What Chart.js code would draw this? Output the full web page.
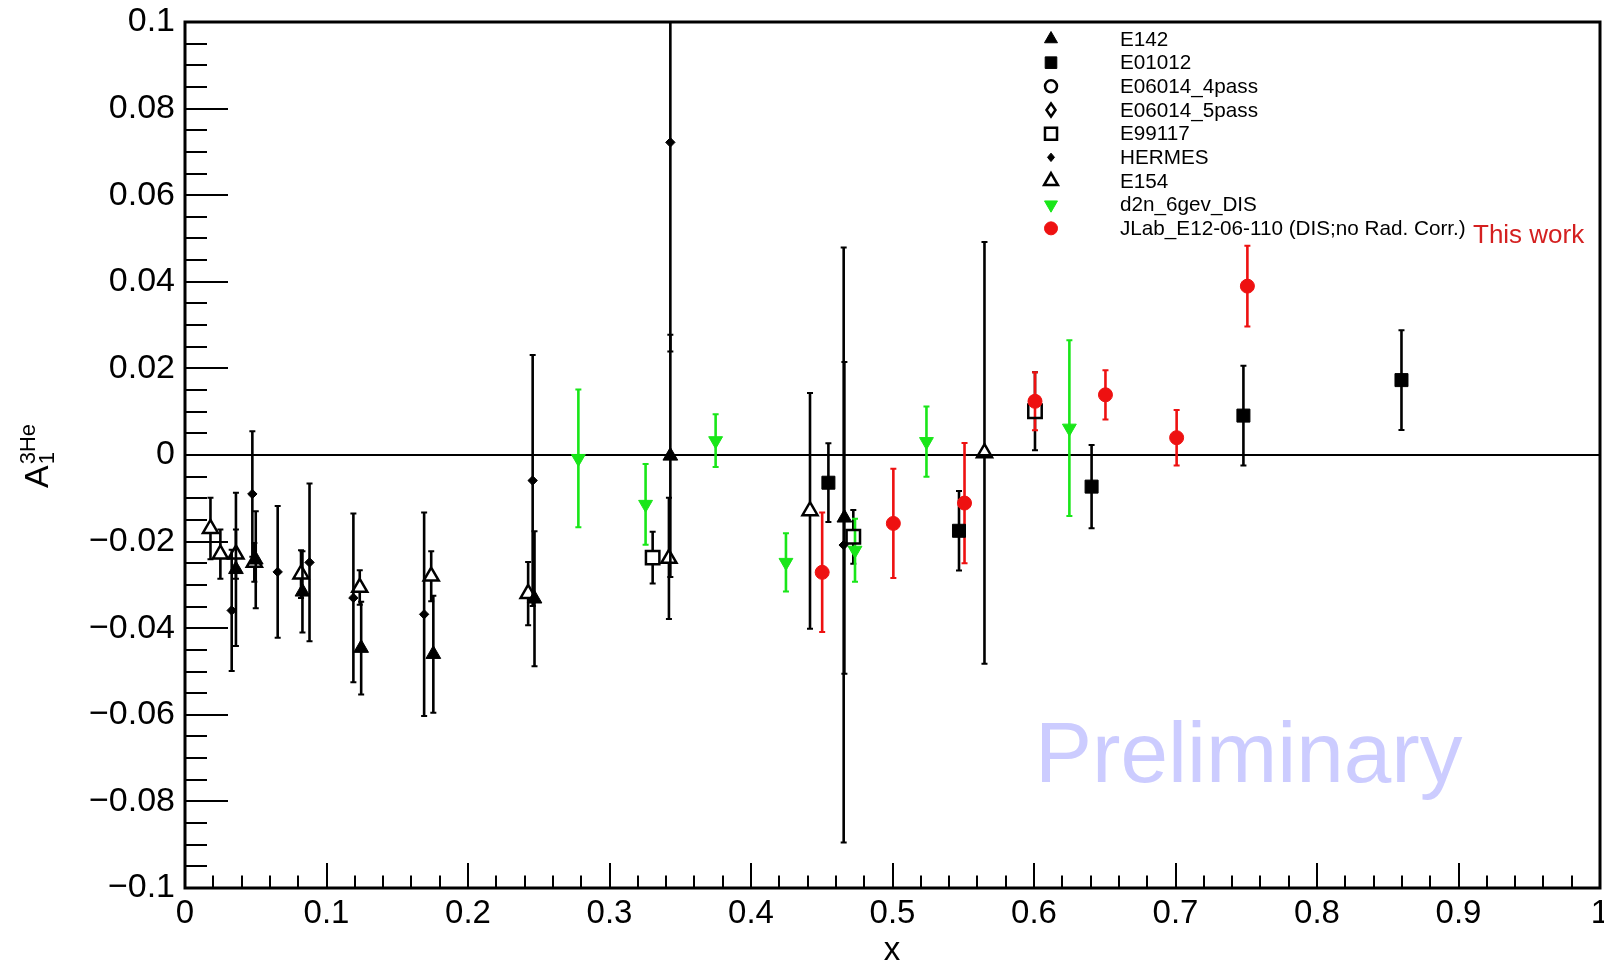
<!DOCTYPE html>
<html>
<head>
<meta charset="utf-8">
<title>A1 3He world data</title>
<script src="https://cdn.jsdelivr.net/npm/chart.js@4.4.1/dist/chart.umd.min.js"></script>
<style>
  html, body { margin: 0; padding: 0; background: #ffffff; }
  #wrap { width: 1604px; height: 961px; }
</style>
</head>
<body>
<div id="wrap"><canvas id="c" width="1604" height="961"></canvas></div>
<script>
// ---- measurements of A1(3He) versus x: value and total uncertainty ----
const e142X   = [0.036, 0.050, 0.083, 0.1245, 0.1755, 0.247, 0.343, 0.466];
const e142Y   = [-0.0264, -0.0242, -0.0316, -0.0446, -0.0460, -0.0332, -0.0002, -0.0145];
const e142Err = [0.0177, 0.0112, 0.0094, 0.0107, 0.0135, 0.0156, 0.0280, 0.0360];

const e01012X   = [0.4547, 0.547, 0.6407, 0.748, 0.8597];
const e01012Y   = [-0.0064, -0.0175, -0.0073, 0.0091, 0.0173];
const e01012Err = [0.0091, 0.0092, 0.0096, 0.0115, 0.0115];

const e06014p4X = [], e06014p4Y = [], e06014p4Err = [];
const e06014p5X = [], e06014p5Y = [], e06014p5Err = [];

const e99117X   = [0.3305, 0.4723, 0.6007];
const e99117Y   = [-0.0237, -0.0189, 0.0101];
const e99117Err = [0.0060, 0.0062, 0.0090];

const hermesX   = [0.033, 0.0476, 0.0655, 0.088, 0.119, 0.169, 0.2457, 0.343, 0.4655];
const hermesY   = [-0.0359, -0.0090, -0.0270, -0.0248, -0.0330, -0.0368, -0.0059, 0.0722, -0.0208];
const hermesErr = [0.0140, 0.0145, 0.0152, 0.0182, 0.0195, 0.0235, 0.0290, 0.0483, 0.0687];

const e154X   = [0.018, 0.025, 0.036, 0.049, 0.082, 0.1235, 0.174, 0.2425, 0.342, 0.4417, 0.565];
const e154Y   = [-0.0170, -0.0229, -0.0229, -0.0248, -0.0275, -0.0306, -0.0280, -0.0320, -0.0239, -0.0129, 0.0005];
const e154Err = [0.0071, 0.0057, 0.0057, 0.0045, 0.0055, 0.0040, 0.0058, 0.0073, 0.0140, 0.0272, 0.0487];

const d2nX   = [0.278, 0.3255, 0.375, 0.4247, 0.4735, 0.524, 0.625];
const d2nY   = [-0.0008, -0.0114, 0.0033, -0.0248, -0.0220, 0.0031, 0.0062];
const d2nErr = [0.0159, 0.0093, 0.0061, 0.0067, 0.0073, 0.0081, 0.0203];

const jlabX   = [0.4503, 0.5006, 0.5509, 0.6007, 0.6505, 0.7008, 0.7508];
const jlabY   = [-0.0271, -0.0158, -0.0111, 0.0124, 0.0139, 0.0040, 0.0390];
const jlabErr = [0.0138, 0.0126, 0.0139, 0.0067, 0.0057, 0.0064, 0.0093];

const seriesNames = ['E142', 'E01012', 'E06014_4pass', 'E06014_5pass', 'E99117',
                     'HERMES', 'E154', 'd2n_6gev_DIS', 'JLab_E12-06-110 (DIS;no Rad. Corr.)'];

// ---- axis tick labels ----
const xTickValues = [0, 0.1, 0.2, 0.3, 0.4, 0.5, 0.6, 0.7, 0.8, 0.9, 1];
const xTickLabels = ['0', '0.1', '0.2', '0.3', '0.4', '0.5', '0.6', '0.7', '0.8', '0.9', '1'];
const yTickValues = [-0.1, -0.08, -0.06, -0.04, -0.02, 0, 0.02, 0.04, 0.06, 0.08, 0.1];
const yTickLabels = ['\u22120.1', '\u22120.08', '\u22120.06', '\u22120.04', '\u22120.02', '0',
                     '0.02', '0.04', '0.06', '0.08', '0.1'];

const FONT = "'Liberation Sans', Arial, Helvetica, sans-serif";
const BLACK = '#000000';
const GREEN = '#19e619';
const RED = '#ee1111';
const CLEAR = 'rgba(0,0,0,0)';

function pts(xs, ys) { return xs.map((x, i) => ({ x: x, y: ys[i] })); }

// marker styles: style, radius, rotation, fill, stroke, border width, error colour
const styles = [
  { style: 'triangle', r: 8.5, rot: 0,   fill: BLACK, stroke: BLACK, bw: 1,   col: BLACK, open: false },
  { style: 'rect',     r: 9.2, rot: 0,   fill: BLACK, stroke: BLACK, bw: 1,   col: BLACK, open: false },
  { style: 'circle',   r: 6.5, rot: 0,   fill: CLEAR, stroke: BLACK, bw: 2.5, col: BLACK, open: true },
  { style: 'rectRot',  r: 6.5, rot: 0,   fill: CLEAR, stroke: BLACK, bw: 2.5, col: BLACK, open: true },
  { style: 'rect',     r: 9.5, rot: 0,   fill: CLEAR, stroke: BLACK, bw: 2.5, col: BLACK, open: true },
  { style: 'rectRot',  r: 4.7, rot: 0,   fill: BLACK, stroke: BLACK, bw: 1,   col: BLACK, open: false },
  { style: 'triangle', r: 8.7, rot: 0,   fill: CLEAR, stroke: BLACK, bw: 2.5, col: BLACK, open: true },
  { style: 'triangle', r: 8.0, rot: 180, fill: GREEN, stroke: GREEN, bw: 1,   col: GREEN, open: false },
  { style: 'circle',   r: 7.0, rot: 0,   fill: RED,   stroke: RED,   bw: 1,   col: RED,   open: false }
];

const seriesData = [
  [e142X, e142Y, e142Err], [e01012X, e01012Y, e01012Err], [e06014p4X, e06014p4Y, e06014p4Err],
  [e06014p5X, e06014p5Y, e06014p5Err], [e99117X, e99117Y, e99117Err], [hermesX, hermesY, hermesErr],
  [e154X, e154Y, e154Err], [d2nX, d2nY, d2nErr], [jlabX, jlabY, jlabErr]
];

const datasets = seriesData.map((s, i) => {
  const st = styles[i];
  return {
    label: seriesNames[i],
    data: pts(s[0], s[1]),
    yErr: s[2],
    marker: st,
    showLine: false,
    pointStyle: st.style,
    pointRadius: st.r,
    pointRotation: st.rot,
    pointBackgroundColor: st.fill,
    pointBorderColor: st.stroke,
    pointBorderWidth: st.bw,
    order: seriesNames.length - i
  };
});

// frame, inward ticks and the zero line
const framePlugin = {
  id: 'frame',
  beforeDatasetsDraw(chart) {
    const { ctx, chartArea: a, scales: { x, y } } = chart;
    ctx.save();
    ctx.strokeStyle = BLACK;
    ctx.lineWidth = 2;
    ctx.beginPath();
    for (let k = -20; k <= 20; k++) {
      const py = Math.round(y.getPixelForValue(k * 0.005));
      const len = (k % 4 === 0) ? 43 : 22;
      ctx.moveTo(a.left, py);
      ctx.lineTo(a.left + len, py);
    }
    for (let k = 0; k <= 50; k++) {
      const px = Math.round(x.getPixelForValue(k * 0.02));
      const len = (k % 5 === 0) ? 25 : 12.5;
      ctx.moveTo(px, a.bottom);
      ctx.lineTo(px, a.bottom - len);
    }
    ctx.stroke();
    // zero line
    ctx.beginPath();
    const y0 = y.getPixelForValue(0);
    ctx.moveTo(a.left, y0);
    ctx.lineTo(a.right, y0);
    ctx.stroke();
    // frame
    ctx.lineWidth = 3;
    ctx.strokeRect(a.left, a.top, a.right - a.left, a.bottom - a.top);
    ctx.restore();
  }
};

// vertical error bars with end caps, broken around open markers
const errorBarPlugin = {
  id: 'errorBars',
  beforeDatasetsDraw(chart) {
    const { ctx, chartArea: a, scales: { x, y } } = chart;
    ctx.save();
    ctx.beginPath();
    ctx.rect(a.left, a.top, a.right - a.left, a.bottom - a.top);
    ctx.clip();
    chart.data.datasets.forEach(ds => {
      const st = ds.marker;
      let gapUp = 0, gapDown = 0;
      if (st.open) {
        if (st.style === 'triangle') { gapUp = st.r; gapDown = st.r * 0.5; }
        else if (st.style === 'rect') { gapUp = gapDown = st.r * Math.SQRT1_2; }
        else { gapUp = gapDown = st.r; }
      }
      ctx.strokeStyle = st.col;
      ds.data.forEach((p, i) => {
        const e = ds.yErr[i];
        const px = x.getPixelForValue(p.x);
        const pc = y.getPixelForValue(p.y);
        const pt = y.getPixelForValue(p.y + e);
        const pb = y.getPixelForValue(p.y - e);
        ctx.lineWidth = 2.6;
        ctx.beginPath();
        if (pc - gapUp > pt) { ctx.moveTo(px, pc - gapUp); ctx.lineTo(px, pt); }
        if (pc + gapDown < pb) { ctx.moveTo(px, pc + gapDown); ctx.lineTo(px, pb); }
        ctx.stroke();
        ctx.lineWidth = 2;
        ctx.beginPath();
        ctx.moveTo(px - 3, pt); ctx.lineTo(px + 3, pt);
        ctx.moveTo(px - 3, pb); ctx.lineTo(px + 3, pb);
        ctx.stroke();
      });
    });
    ctx.restore();
  }
};

function drawMarker(ctx, st, cx, cy, r, w) {
  ctx.save();
  ctx.fillStyle = st.fill;
  ctx.strokeStyle = st.stroke;
  ctx.lineWidth = st.bw;
  if (Chart.helpers && Chart.helpers.drawPointLegend) {
    Chart.helpers.drawPointLegend(ctx, { pointStyle: st.style, rotation: st.rot, radius: r, borderWidth: st.bw }, cx, cy, w);
  } else if (Chart.helpers && Chart.helpers.drawPoint) {
    Chart.helpers.drawPoint(ctx, { pointStyle: st.style, rotation: st.rot, radius: r, borderWidth: st.bw }, cx, cy);
  }
  ctx.restore();
}

// legend, labels, titles and watermark
const textPlugin = {
  id: 'texts',
  afterDraw(chart) {
    const { ctx } = chart;
    ctx.save();
    // watermark
    ctx.fillStyle = '#ccccff';
    ctx.font = `85.5px ${FONT}`;
    ctx.textAlign = 'left';
    ctx.textBaseline = 'alphabetic';
    ctx.fillText('Preliminary', 1035, 782);

    // legend
    const legendSizes = [7.5, 8.2, 6, 6.5, 8.5, 4.2, 8, 7.5, 6.5];
    const legendWidths = [null, null, null, 9, null, 7, null, null, null];
    seriesNames.forEach((name, i) => {
      const ry = 39 + i * 23.67;
      drawMarker(ctx, styles[i], 1051, ry, legendSizes[i], legendWidths[i]);
      ctx.fillStyle = BLACK;
      ctx.font = `20.7px ${FONT}`;
      ctx.textAlign = 'left';
      ctx.textBaseline = 'middle';
      ctx.fillText(name, 1120, ry + 1);
    });
    ctx.fillStyle = '#d42020';
    ctx.font = `26px ${FONT}`;
    ctx.textBaseline = 'alphabetic';
    ctx.fillText('This work', 1473, 243);

    // axis titles
    ctx.fillStyle = BLACK;
    ctx.font = `33px ${FONT}`;
    ctx.textAlign = 'center';
    ctx.fillText('x', 892, 960);

    ctx.translate(48, 488);
    ctx.rotate(-Math.PI / 2);
    ctx.textAlign = 'left';
    ctx.font = `34px ${FONT}`;
    ctx.fillText('A', 0, 0);
    const wA = ctx.measureText('A').width;
    ctx.font = `22px ${FONT}`;
    ctx.fillText('1', wA + 1, 6);
    ctx.fillText('3He', wA + 1, -13);
    ctx.restore();
  }
};

// keep the plot frame fixed: no extra room reserved for the end tick labels
const noPadding = () => ({ left: 0, top: 0, right: 0, bottom: 0 });

new Chart(document.getElementById('c'), {
  type: 'scatter',
  data: { datasets: datasets },
  options: {
    responsive: false,
    animation: false,
    devicePixelRatio: 1,
    layout: { autoPadding: false, padding: { top: 22, right: 4, left: 0, bottom: 0 } },
    plugins: { legend: { display: false }, tooltip: { enabled: false } },
    scales: {
      x: {
        type: 'linear', position: 'bottom', min: 0, max: 1,
        grid: { display: false, drawTicks: false },
        border: { display: false },
        afterBuildTicks: s => { s.ticks = xTickValues.map(v => ({ value: v })); },
        afterFit: s => {
          s.height = 73; s.paddingLeft = 0; s.paddingRight = 0;
          s.getPadding = noPadding;
        },
        ticks: {
          autoSkip: false, maxRotation: 0, minRotation: 0, padding: 6,
          color: BLACK, font: { family: FONT, size: 33 },
          callback: (v, i) => xTickLabels[i]
        }
      },
      y: {
        type: 'linear', position: 'left', min: -0.1, max: 0.1,
        grid: { display: false, drawTicks: false },
        border: { display: false },
        afterBuildTicks: s => { s.ticks = yTickValues.map(v => ({ value: v })); },
        afterFit: s => {
          s.width = 185; s.paddingTop = 0; s.paddingBottom = 0;
          s.getPadding = noPadding;
        },
        ticks: {
          autoSkip: false, padding: 10,
          color: BLACK, font: { family: FONT, size: 34 },
          callback: (v, i) => yTickLabels[i]
        }
      }
    }
  },
  plugins: [framePlugin, errorBarPlugin, textPlugin]
});
</script>
</body>
</html>
